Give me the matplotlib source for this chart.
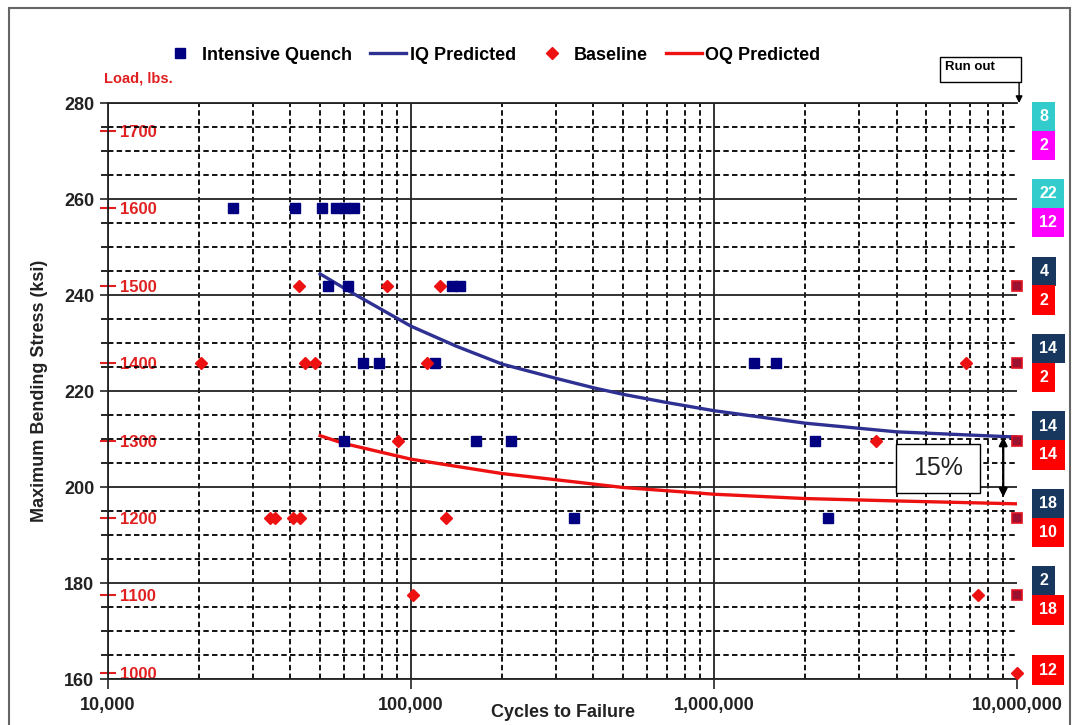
import matplotlib
matplotlib.use("Agg")
import matplotlib.pyplot as plt
from matplotlib.ticker import LogLocator, NullFormatter, FuncFormatter, MultipleLocator
from matplotlib.patches import Rectangle

plt.rcParams['font.family'] = ['Liberation Sans', 'DejaVu Sans']

# ksi of bending stress per lb of load
KSI_PER_LB = 0.1613

# Intensive Quench failures
iq_cycles = [25800, 41400, 50800, 56500, 60500, 64800,
             53300, 62100, 136000, 145000,
             69600, 78600, 120000, 1355000, 1600000,
             60100, 163600, 213800, 2150000,
             345000, 2370000]
iq_load = [1600, 1600, 1600, 1600, 1600, 1600,
           1500, 1500, 1500, 1500,
           1400, 1400, 1400, 1400, 1400,
           1300, 1300, 1300, 1300,
           1200, 1200]

# Baseline failures
base_cycles = [42700, 83500, 124600,
               20200, 44700, 48200, 112600, 6790000,
               90400, 3420000,
               34200, 35600, 40700, 43100, 130500,
               101500, 7430000,
               10000000]
base_load = [1500, 1500, 1500,
             1400, 1400, 1400, 1400, 1400,
             1300, 1300,
             1200, 1200, 1200, 1200, 1200,
             1100, 1100,
             1000]

# run outs at 10 million cycles
runout_cycles = [10000000, 10000000, 10000000, 10000000, 10000000]
runout_load = [1500, 1400, 1300, 1200, 1100]

# predicted curves
iq_pred_cycles = [50100, 62900, 100000, 141500, 200000, 302600, 404800,
                  502000, 698700, 1000000, 2000000, 4000000, 10000000]
iq_pred_ksi = [244.4, 240.7, 233.5, 229.3, 225.6, 222.6, 220.6,
               219.3, 217.6, 215.9, 213.3, 211.5, 210.4]
oq_pred_cycles = [50100, 59800, 100000, 200000, 302600, 502000,
                  1000000, 2000000, 4000000, 10000000]
oq_pred_ksi = [210.7, 209.1, 205.8, 202.8, 201.5, 199.9,
               198.5, 197.6, 197.1, 196.5]

# sample counts per load level (right hand boxes)
count_loads = [1700, 1600, 1500, 1400, 1300, 1200, 1100, 1000]
upper_counts = [8, 22, 4, 14, 14, 18, 2, None]
lower_counts = [2, 12, 2, 2, 14, 10, 18, 12]
upper_colors = ['#33cccc', '#33cccc', '#17375e', '#17375e', '#17375e', '#17375e', '#17375e', None]
lower_colors = ['#ff00ff', '#ff00ff', '#ff0000', '#ff0000', '#ff0000', '#ff0000', '#ff0000', '#ff0000']

load_ticks = [1000, 1100, 1200, 1300, 1400, 1500, 1600, 1700]
stress_ticks = [160, 180, 200, 220, 240, 260, 280]
cycle_ticks = [1e4, 1e5, 1e6, 1e7]

NAVY = '#000080'
IQ_LINE = '#2e3192'
RED = '#ee1111'
INK = '#222222'


def to_ksi(loads):
    return [l * KSI_PER_LB for l in loads]


fig = plt.figure(figsize=(10.73, 7.25), dpi=100)
ax = fig.add_axes([0.1007, 0.0634, 0.8472, 0.7945])

ax.plot(iq_cycles, to_ksi(iq_load), ls='none', marker='s', ms=7.5,
        color=NAVY, mec=NAVY, label='Intensive Quench', zorder=4)
ax.plot(iq_pred_cycles, iq_pred_ksi, color=IQ_LINE, lw=2.4,
        label='IQ Predicted', zorder=3)
ax.plot(base_cycles, to_ksi(base_load), ls='none', marker='D', ms=6.5,
        color=RED, mec=RED, label='Baseline', zorder=5, clip_on=False)
ax.plot(oq_pred_cycles, oq_pred_ksi, color=RED, lw=2.4,
        label='OQ Predicted', zorder=3)
ax.plot(runout_cycles, to_ksi(runout_load), ls='none', marker='s', ms=7.5,
        color='#9b1230', mec='#e01020', mew=1.2, zorder=5, clip_on=False)

ax.set_xscale('log')
ax.set_xlim(1e4, 1e7)
ax.set_ylim(160, 280)
ax.set_xticks(cycle_ticks)
ax.xaxis.set_major_formatter(FuncFormatter(lambda v, p: f'{v:,.0f}'))
ax.xaxis.set_minor_locator(LogLocator(base=10, subs=range(2, 10)))
ax.xaxis.set_minor_formatter(NullFormatter())
ax.set_yticks(stress_ticks)
ax.yaxis.set_minor_locator(MultipleLocator(5))

ax.grid(which='major', color=INK, lw=1.3, ls='-')
ax.grid(which='minor', color='black', lw=1.3, ls=(0, (3, 1.8)))
ax.xaxis.get_major_ticks()[-1].gridline.set_visible(False)
ax.set_axisbelow(True)

ax.tick_params(axis='both', which='major', labelsize=13, width=1.2, color=INK)
ax.tick_params(axis='x', which='major', length=7, pad=6)
ax.tick_params(axis='y', which='major', length=6, pad=4)
ax.tick_params(axis='x', which='minor', length=0)
ax.tick_params(axis='y', which='minor', length=5, width=1.2)
for lab in ax.get_xticklabels() + ax.get_yticklabels():
    lab.set_fontweight('bold')
    lab.set_color(INK)

ax.spines['right'].set_visible(False)
for s in ['left', 'bottom', 'top']:
    ax.spines[s].set_linewidth(1.3)
    ax.spines[s].set_color(INK)

ax.set_xlabel('Cycles to Failure', fontsize=13, fontweight='bold', color=INK)
ax.xaxis.set_label_coords(0.5, -0.043)
ax.set_ylabel('Maximum Bending Stress (ksi)', fontsize=13, fontweight='bold', color=INK)
ax.yaxis.set_label_coords(-0.066, 0.5)

# load axis drawn just inside the left spine
secax = ax.secondary_yaxis(0.0, functions=(lambda s: s / KSI_PER_LB, lambda l: l * KSI_PER_LB))
secax.set_alignment('right')
secax.set_yticks(load_ticks)
secax.spines['right'].set_visible(False)
secax.spines['left'].set_visible(False)
secax.tick_params(axis='y', which='major', direction='inout', length=11, width=1.5,
                  color='#e02020', labelcolor='#e02020', labelsize=12, pad=3)
secax.tick_params(axis='y', which='minor', length=0)
for lab in secax.get_yticklabels():
    lab.set_fontweight('bold')
ax.text(-0.004, 1.03, 'Load, lbs.', transform=ax.transAxes, color='#e02020',
        fontsize=10.5, fontweight='bold', ha='left', va='bottom')

# count boxes on the right
for load, up, upc, lo, loc in zip(count_loads, upper_counts, upper_colors, lower_counts, lower_colors):
    s = load * KSI_PER_LB
    box = dict(boxstyle='square,pad=0.45', ec='none')
    kw = dict(xycoords=('axes fraction', 'data'), textcoords='offset points', ha='left',
              color='white', fontsize=11.5, fontweight='bold', annotation_clip=False)
    if up is not None:
        ax.annotate(str(up), xy=(1.0, s), xytext=(16, 5), va='bottom',
                    bbox=dict(box, fc=upc), **kw)
        ax.annotate(str(lo), xy=(1.0, s), xytext=(16, -5), va='top',
                    bbox=dict(box, fc=loc), **kw)
    else:
        ax.annotate(str(lo), xy=(1.0, s), xytext=(16, 2), va='center',
                    bbox=dict(box, fc=loc), **kw)

# "Run out" callout
ax.add_patch(Rectangle((0.9153, 1.0365), 0.0891, 0.0434, transform=ax.transAxes,
                       fc='white', ec='black', lw=1, clip_on=False, zorder=6))
ax.text(0.921, 1.073, 'Run out', transform=ax.transAxes, fontsize=9.5,
        fontweight='bold', ha='left', va='top', zorder=7)
ax.annotate('', xy=(1.0022, 1.0), xytext=(1.0022, 1.0365), xycoords='axes fraction',
            arrowprops=dict(arrowstyle='-|>', color='black', lw=1,
                            mutation_scale=10, shrinkA=0, shrinkB=0))

# 15% gap callout
ax.add_patch(Rectangle((0.8669, 0.3229), 0.0924, 0.0851, transform=ax.transAxes,
                       fc='white', ec='black', lw=1, zorder=6))
ax.text(0.913, 0.366, '15%', transform=ax.transAxes, fontsize=18,
        ha='center', va='center', color=INK, zorder=7)
ax.annotate('', xy=(9.0e6, 197.9), xytext=(9.0e6, 210.4), xycoords='data',
            arrowprops=dict(arrowstyle='<|-|>', color='black', lw=1.6,
                            mutation_scale=12, shrinkA=0, shrinkB=0), zorder=7)

handles, labels = ax.get_legend_handles_labels()
fig.legend(handles[:4], labels[:4], loc='center', bbox_to_anchor=(0.458, 0.924), ncol=4,
           frameon=False, prop={'weight': 'bold', 'size': 13}, handlelength=2.0,
           handletextpad=0.2, columnspacing=1.0)

# outer frame of the chart area
fig.add_artist(Rectangle((9 / 1073, -0.01), (1070 - 9) / 1073, 1.0 - 8 / 725 + 0.01,
                         transform=fig.transFigure, fill=False, ec='#666666', lw=1.5))

fig.savefig('out.png', dpi=100)
